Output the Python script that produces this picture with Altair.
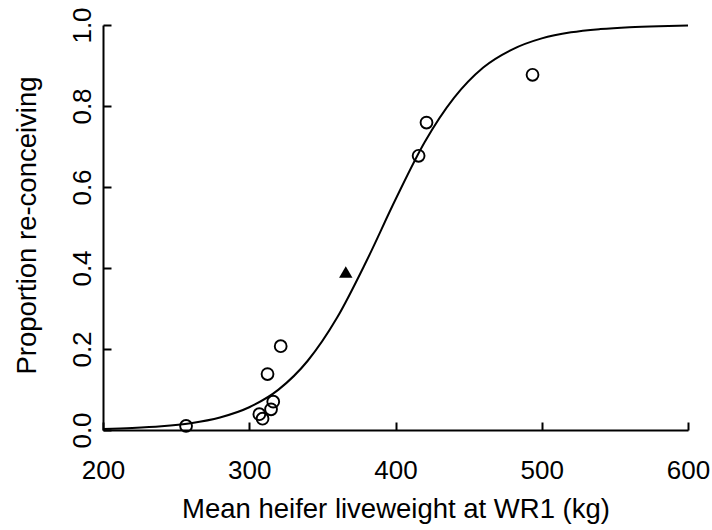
import altair as alt
import pandas as pd

# Fitted curve
curve_x = [200, 220, 240, 260, 280, 300, 320, 340, 360, 380, 400,
           420, 440, 460, 480, 500, 520, 540, 560, 580, 600]
curve_p = [0.0027, 0.0050, 0.0092, 0.0169, 0.0310, 0.0562, 0.0997, 0.171,
           0.277, 0.416, 0.569, 0.711, 0.820, 0.895, 0.940, 0.967, 0.982,
           0.990, 0.9947, 0.9972, 0.9985]

# Observed herds (open circles)
obs_x = [256.8, 306.9, 309.1, 314.9, 316.4, 312.5, 321.5, 415.8, 421.2, 493.7]
obs_p = [0.010, 0.039, 0.028, 0.051, 0.070, 0.138, 0.207, 0.677, 0.759, 0.877]

# Highlighted point (filled triangle)
tri_x = [366.0]
tri_p = [0.39]

x_ticks = [200, 300, 400, 500, 600]
y_ticks = [0.0, 0.2, 0.4, 0.6, 0.8, 1.0]

FONT = "Liberation Sans"
FS = 26
TFS = 27.5

curve_df = pd.DataFrame({"x": curve_x, "p": curve_p})
obs_df = pd.DataFrame({"x": obs_x, "p": obs_p})
tri_df = pd.DataFrame({"x": tri_x, "p": tri_p})

xscale = alt.Scale(domain=[200, 600], nice=False, zero=False)
yscale = alt.Scale(domain=[0, 1], nice=False, zero=False)

x_main_axis = alt.Axis(
    orient="bottom", values=x_ticks, format="d", grid=False, ticks=False, tickSize=0,
    domain=True, domainColor="black", domainWidth=2,
    labelFont=FONT, labelFontSize=FS, labelColor="black",
    labelBaseline="alphabetic", labelAlign="center", labelPadding=48,
    title="Mean heifer liveweight at WR1 (kg)", titleFont=FONT, titleFontSize=TFS,
    titleFontWeight="normal", titleColor="black", titleX=292.5, titleY=87,
    titleAlign="center", titleBaseline="alphabetic", labelFlush=False,
)
y_main_axis = alt.Axis(
    orient="left", values=y_ticks, format=".1f", grid=False, ticks=False, tickSize=0,
    domain=True, domainColor="black", domainWidth=2,
    labelFont=FONT, labelFontSize=FS, labelColor="black", labelAngle=270,
    labelBaseline="alphabetic", labelAlign="center", labelPadding=13,
    title="Proportion re-conceiving", titleFont=FONT, titleFontSize=TFS,
    titleFontWeight="normal", titleColor="black", titleAngle=270,
    titleX=-68, titleY=200, titleAlign="center", titleBaseline="alphabetic",
    labelFlush=False,
)
x_tick_axis = alt.Axis(
    orient="bottom", values=x_ticks, grid=False, domain=False, labels=False,
    ticks=True, tickSize=8, tickWidth=2, tickColor="black", offset=-8, title=None,
)
y_tick_axis = alt.Axis(
    orient="left", values=y_ticks, grid=False, domain=False, labels=False,
    ticks=True, tickSize=8, tickWidth=2, tickColor="black", offset=-8, title=None,
)

line = alt.Chart(curve_df).mark_line(
    color="black", strokeWidth=2, interpolate="monotone"
).encode(
    x=alt.X("x:Q", scale=xscale, axis=x_main_axis),
    y=alt.Y("p:Q", scale=yscale, axis=y_main_axis),
)

circles = alt.Chart(obs_df).mark_point(
    shape="circle", filled=False, color="black", strokeWidth=1.9, size=140, opacity=1
).encode(
    x=alt.X("x:Q", scale=xscale, axis=x_tick_axis),
    y=alt.Y("p:Q", scale=yscale, axis=y_tick_axis),
)

tri = alt.Chart(tri_df).mark_point(
    shape="triangle-up", filled=True, color="black", size=180, opacity=1
).encode(
    x=alt.X("x:Q", scale=xscale, axis=None),
    y=alt.Y("p:Q", scale=yscale, axis=None),
)

chart = alt.layer(line, circles, tri).resolve_axis(
    x="independent", y="independent"
).properties(
    width=585, height=405,
    autosize=alt.AutoSizeParams(type="none"),
    padding={"left": 103, "top": 25, "right": 24, "bottom": 100},
    background="white",
).configure_view(stroke=None)

chart.save("out.html", embed_options={"renderer": "svg", "actions": False})
